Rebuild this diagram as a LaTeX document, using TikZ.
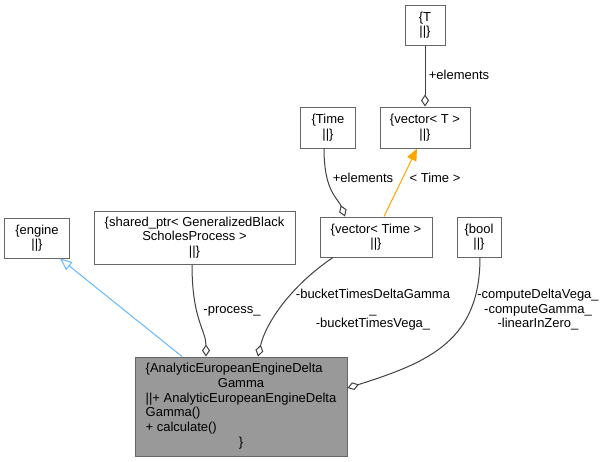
\documentclass[tikz,border=0pt]{standalone}
\usepackage{fontspec}
\setmainfont{Liberation Sans}
\usetikzlibrary{arrows.meta}
\definecolor{edgegray}{HTML}{404040}
\definecolor{boxgray}{HTML}{999999}
\definecolor{bordergray}{HTML}{666666}
\definecolor{inheritblue}{HTML}{63B8FF}
\definecolor{tmplorange}{HTML}{FFA500}
\tikzset{
  cls/.style={draw=bordergray, line width=1pt, fill=white, align=center,
    inner sep=0pt, font=\fontsize{13}{14.5}\selectfont},
  lbl/.style={align=center, inner sep=0pt, font=\fontsize{13}{14.5}\selectfont},
  memb/.style={draw=edgegray, line width=1pt, -{Diamond[open,length=12pt,width=8pt]}},
  inh/.style={draw=inheritblue, line width=1pt, -{Triangle[open,length=12pt,width=10pt]}},
  tmpl/.style={draw=tmplorange, line width=1pt, -{Triangle[length=12pt,width=10pt]}}
}
\begin{document}
\begin{tikzpicture}[x=1pt,y=-1pt]
        \useasboundingbox (0,0) rectangle (605,461);
        % classes
            \node[cls, fill=boxgray, minimum width=212, minimum height=99,
                  font=\fontsize{13}{14.8}\selectfont] (main) at (241,406.5)
                {\begin{tabular}{@{}l@{}}
                 \{AnalyticEuropeanEngineDelta\\
                 \multicolumn{1}{@{}c@{}}{Gamma}\\
                 ||+ AnalyticEuropeanEngineDelta\\
                 Gamma()\\
                 + calculate()\\
                 \multicolumn{1}{@{}c@{}}{\}}
                 \end{tabular}};
            \node[cls, minimum width=65, minimum height=40] (engine) at (37,238) {\{engine\\||\}};
            \node[cls, minimum width=201, minimum height=53] (process) at (194.5,237.5)
                {\{shared\_ptr< GeneralizedBlack\\ScholesProcess >\\||\}};
            \node[cls, minimum width=112, minimum height=40] (vecTime) at (376,237) {\{vector< Time >\\||\}};
            \node[cls, minimum width=44, minimum height=40] (boolT) at (479,237) {\{bool\\||\}};
            \node[cls, minimum width=55, minimum height=41] (timeT) at (328,127.5) {\{Time\\||\}};
            \node[cls, minimum width=90, minimum height=41] (vecT) at (425,127.5) {\{vector< T >\\||\}};
            \node[cls, minimum width=40, minimum height=40] (tT) at (425,25) {\{T\\||\}};
        % relations
            \draw[inh] (main.north -| 182,0) -- (engine.south -| 60,0);
            \draw[memb] (process.south -| 192,0) .. controls (192,320) and (206,330) .. (main.north -| 206,0);
            \draw[memb] (vecTime.south -| 333,0) .. controls (292,285) and (266,322) .. (main.north -| 258,0);
            \draw[memb] (boolT.south -| 480,0) .. controls (480,340) and (430,362) .. (main.east |- 0,388);
            \draw[memb] (timeT.south -| 324,0) .. controls (324,192) and (338,198) .. (vecTime.north -| 345,0);
            \draw[tmpl] (vecTime.north -| 384,0) -- (vecT.south -| 417,0);
            \draw[memb] (tT.south) -- (vecT.north);
        % labels
            \node[lbl] (lProcess) at (232,311) {-process\_};
            \node[lbl] (lBucket) at (373,310) {-bucketTimesDeltaGamma\\\_\\-bucketTimesVega\_};
            \node[lbl] (lBool) at (538,310) {-computeDeltaVega\_\\-computeGamma\_\\-linearInZero\_};
            \node[lbl] (lTime) at (363,178) {+elements};
            \node[lbl] (lTmpl) at (435,178) {< Time >};
            \node[lbl] (lT) at (459,75) {+elements};
        \end{tikzpicture}
\end{document}
